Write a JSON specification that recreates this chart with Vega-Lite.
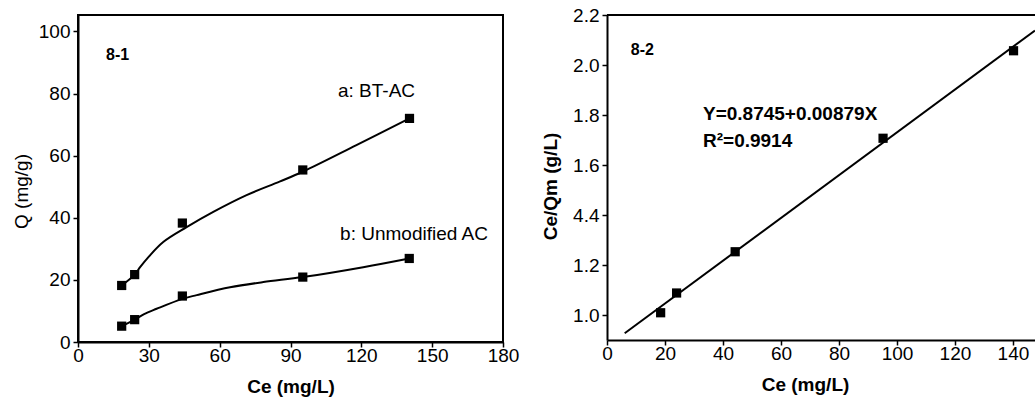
{
  "$schema": "https://vega.github.io/schema/vega-lite/v6.json",
  "background": "white",
  "padding": {"left": 11, "top": 6, "right": 0, "bottom": 5},
  "bounds": "flush",
  "spacing": 104,
  "config": {
    "font": "Liberation Sans",
    "view": {"stroke": "black", "strokeWidth": 2},
    "axis": {
      "grid": false,
      "domainColor": "black",
      "domainWidth": 2,
      "tickColor": "black",
      "tickWidth": 1.5,
      "tickSize": 5,
      "labelFont": "Liberation Sans",
      "labelFontSize": 19,
      "labelColor": "black",
      "labelPadding": 3,
      "labelOverlap": false,
      "labelFlush": false,
      "titleFont": "Liberation Sans",
      "titleFontSize": 19,
      "titleColor": "black"
    }
  },
  "datasets": {
    "pts": [
      {"x": 18.5, "y": 18.2, "s": "a"}, {"x": 24, "y": 21.7, "s": "a"}, {"x": 44.2, "y": 38.3, "s": "a"}, {"x": 95.2, "y": 55.4, "s": "a"}, {"x": 140.4, "y": 72.0, "s": "a"},
      {"x": 18.5, "y": 5.1, "s": "b"}, {"x": 24, "y": 7.2, "s": "b"}, {"x": 44.2, "y": 14.8, "s": "b"}, {"x": 95.2, "y": 20.9, "s": "b"}, {"x": 140.3, "y": 26.9, "s": "b"}
    ],
    "curves": [
      {"x": 18.5, "y": 18.2, "s": "a"}, {"x": 24, "y": 21.7, "s": "a"}, {"x": 26.3, "y": 24.1, "s": "a"}, {"x": 30, "y": 27.5, "s": "a"}, {"x": 36.1, "y": 32.2, "s": "a"}, {"x": 46, "y": 37.0, "s": "a"}, {"x": 57.3, "y": 41.9, "s": "a"}, {"x": 71.4, "y": 47.3, "s": "a"}, {"x": 85.6, "y": 51.7, "s": "a"}, {"x": 95.4, "y": 54.9, "s": "a"}, {"x": 117.7, "y": 63.3, "s": "a"}, {"x": 140.4, "y": 72.0, "s": "a"},
      {"x": 18.5, "y": 5.1, "s": "b"}, {"x": 24, "y": 7.2, "s": "b"}, {"x": 28, "y": 9.0, "s": "b"}, {"x": 33.3, "y": 10.7, "s": "b"}, {"x": 44.2, "y": 13.9, "s": "b"}, {"x": 50.3, "y": 15.1, "s": "b"}, {"x": 64.4, "y": 17.6, "s": "b"}, {"x": 78.5, "y": 19.3, "s": "b"}, {"x": 95.2, "y": 20.9, "s": "b"}, {"x": 120.8, "y": 24.1, "s": "b"}, {"x": 140.3, "y": 26.9, "s": "b"}
    ],
    "lin": [
      {"x": 18.5, "y": 1.009}, {"x": 24, "y": 1.088}, {"x": 44.2, "y": 1.253}, {"x": 95.2, "y": 1.707}, {"x": 140.2, "y": 2.057}
    ],
    "fit": [
      {"x": 6.1, "y": 0.927}, {"x": 147.6, "y": 2.138}
    ]
  },
  "hconcat": [
    {
      "width": 425,
      "height": 327,
      "layer": [
        {
          "data": {"name": "curves"},
          "mark": {"type": "line", "color": "black", "strokeWidth": 2, "interpolate": "catmull-rom"},
          "encoding": {
            "x": {"field": "x", "type": "quantitative",
              "scale": {"domain": [0, 180], "nice": false, "zero": false},
              "axis": {"values": [0, 15, 30, 45, 60, 75, 90, 105, 120, 135, 150, 165, 180],
                "labelExpr": "datum.value % 30 === 0 ? datum.label : ''",
                "labelPadding": -1,
                "title": "Ce (mg/L)", "titleFontWeight": "bold", "titlePadding": 12}},
            "y": {"field": "y", "type": "quantitative",
              "scale": {"domain": [0, 105.3], "nice": false, "zero": false},
              "axis": {"values": [0, 10, 20, 30, 40, 50, 60, 70, 80, 90, 100],
                "labelExpr": "datum.value % 20 === 0 ? datum.label : ''",
                "title": "Q (mg/g)", "titleFontWeight": "normal", "titlePadding": 7, "titleY": 176}},
            "detail": {"field": "s"}
          }
        },
        {
          "data": {"name": "pts"},
          "mark": {"type": "point", "shape": "square", "filled": true, "color": "black", "size": 85, "opacity": 1},
          "encoding": {
            "x": {"field": "x", "type": "quantitative"},
            "y": {"field": "y", "type": "quantitative"}
          }
        },
        {
          "data": {"values": [{"t": "a: BT-AC"}]},
          "mark": {"type": "text", "align": "left", "baseline": "middle", "fontSize": 19, "color": "black"},
          "encoding": {"x": {"datum": 110.1}, "y": {"datum": 80.8}, "text": {"field": "t"}}
        },
        {
          "data": {"values": [{"t": "b: Unmodified AC"}]},
          "mark": {"type": "text", "align": "left", "baseline": "middle", "fontSize": 19, "color": "black"},
          "encoding": {"x": {"datum": 111}, "y": {"datum": 34.9}, "text": {"field": "t"}}
        },
        {
          "data": {"values": [{"t": "8-1"}]},
          "mark": {"type": "text", "align": "left", "baseline": "middle", "fontSize": 16, "fontWeight": "bold", "color": "black"},
          "encoding": {"x": {"datum": 11.9}, "y": {"datum": 92.3}, "text": {"field": "t"}}
        }
      ]
    },
    {
      "width": 428,
      "height": 325,
      "view": {"stroke": null},
      "layer": [
        {
          "data": {"name": "fit"},
          "mark": {"type": "line", "color": "black", "strokeWidth": 2},
          "encoding": {
            "x": {"field": "x", "type": "quantitative",
              "scale": {"domain": [0, 147.6], "nice": false, "zero": false},
              "axis": {"values": [0, 10, 20, 30, 40, 50, 60, 70, 80, 90, 100, 110, 120, 130, 140],
                "labelExpr": "datum.value % 20 === 0 ? datum.label : ''",
                "labelPadding": -1,
                "title": "Ce (mg/L)", "titleFontWeight": "bold", "titlePadding": 12, "titleX": 198}},
            "y": {"field": "y", "type": "quantitative",
              "scale": {"domain": [0.9, 2.2], "nice": false, "zero": false},
              "axis": {"values": [1.0, 1.1, 1.2, 1.3, 1.4, 1.5, 1.6, 1.7, 1.8, 1.9, 2.0, 2.1, 2.2],
                "labelExpr": "round(datum.value * 10) % 2 === 0 ? (round(datum.value * 10) === 14 ? '4.4' : format(datum.value, '.1f')) : ''",
                "title": "Ce/Qm (g/L)", "titleFontWeight": "bold", "titlePadding": 12, "titleY": 171}}
          }
        },
        {
          "data": {"values": [{"v": 2.2}]},
          "mark": {"type": "rule", "color": "black", "strokeWidth": 2},
          "encoding": {"y": {"field": "v", "type": "quantitative"}}
        },
        {
          "data": {"name": "lin"},
          "mark": {"type": "point", "shape": "square", "filled": true, "color": "black", "size": 85, "opacity": 1},
          "encoding": {
            "x": {"field": "x", "type": "quantitative"},
            "y": {"field": "y", "type": "quantitative"}
          }
        },
        {
          "data": {"values": [{"t": "8-2"}]},
          "mark": {"type": "text", "align": "left", "baseline": "middle", "fontSize": 16, "fontWeight": "bold", "color": "black"},
          "encoding": {"x": {"datum": 8.2}, "y": {"datum": 2.061}, "text": {"field": "t"}}
        },
        {
          "data": {"values": [{"t": "Y=0.8745+0.00879X"}]},
          "mark": {"type": "text", "align": "left", "baseline": "middle", "fontSize": 19, "fontWeight": "bold", "color": "black"},
          "encoding": {"x": {"datum": 33.1}, "y": {"datum": 1.804}, "text": {"field": "t"}}
        },
        {
          "data": {"values": [{"t": "R²=0.9914"}]},
          "mark": {"type": "text", "align": "left", "baseline": "middle", "fontSize": 19, "fontWeight": "bold", "color": "black"},
          "encoding": {"x": {"datum": 33.1}, "y": {"datum": 1.697}, "text": {"field": "t"}}
        }
      ]
    }
  ]
}
